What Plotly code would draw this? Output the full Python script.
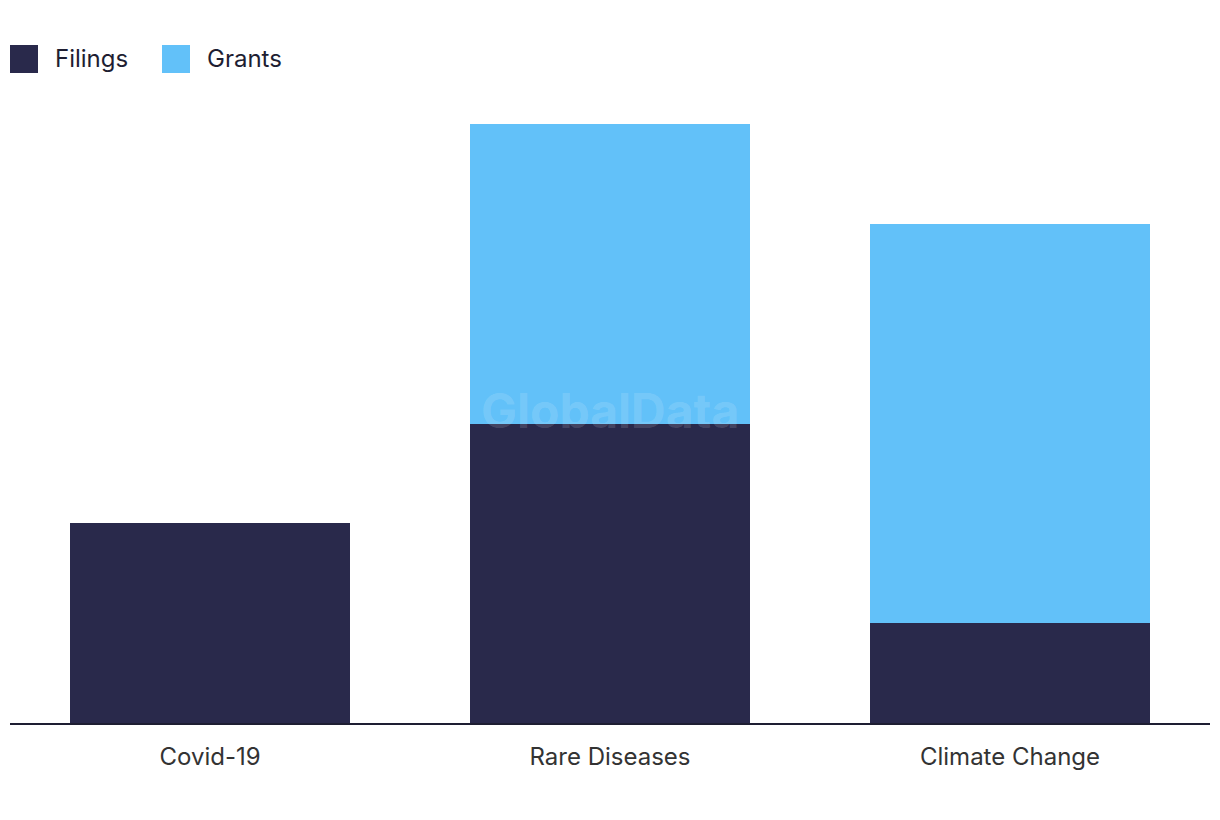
import plotly.graph_objects as go

categories = ["Covid-19", "Rare Diseases", "Climate Change"]
filings = [2, 3, 1]
grants = [0, 3, 4]
series_names = ["Filings", "Grants"]
colors = ["#29294B", "#62C1F9"]

fig = go.Figure()
fig.add_trace(go.Bar(x=categories, y=filings, name=series_names[0],
                     marker=dict(color=colors[0], line=dict(width=0)), showlegend=False))
fig.add_trace(go.Bar(x=categories, y=grants, name=series_names[1],
                     marker=dict(color=colors[1], line=dict(width=0)), showlegend=False))

# custom legend (paper coords relative to plot area 10..1210 x, 124..723 y)
legend_x = [10, 162]
for i, (nm, c) in enumerate(zip(series_names, colors)):
    fig.add_shape(type="rect", xref="paper", yref="paper",
                  x0=(legend_x[i] - 10) / 1200, x1=(legend_x[i] + 18) / 1200,
                  y0=(723 - 73) / 599, y1=(723 - 45) / 599,
                  fillcolor=c, line=dict(width=0))
    fig.add_annotation(xref="paper", yref="paper", x=(legend_x[i] + 33) / 1200,
                       y=(723 - 58) / 599, text=nm, showarrow=False,
                       xanchor="left", yanchor="middle",
                       font=dict(family="Inter, Roboto, sans-serif", size=24, color="#1E1E32"))

fig.add_annotation(xref="paper", yref="paper", x=0.5, y=(723 - 410) / 599,
                   text="<b>GlobalData</b>", showarrow=False,
                   font=dict(family="Inter, Roboto, sans-serif", size=48,
                             color="rgba(255,255,255,0.15)"))

fig.update_layout(
    barmode="stack",
    bargap=0.3,
    width=1220, height=820,
    margin=dict(l=2, r=18, t=116, b=105),
    plot_bgcolor="white", paper_bgcolor="white",
    xaxis=dict(showline=True, linecolor="#1E1E32", linewidth=2, ticks="",
               ticklabelstandoff=11,
               tickfont=dict(family="Inter, Roboto, sans-serif", size=24, color="#333333"),
               showgrid=False),
    yaxis=dict(range=[0, 6], visible=False, showgrid=False),
)

fig.write_html("out.html")
